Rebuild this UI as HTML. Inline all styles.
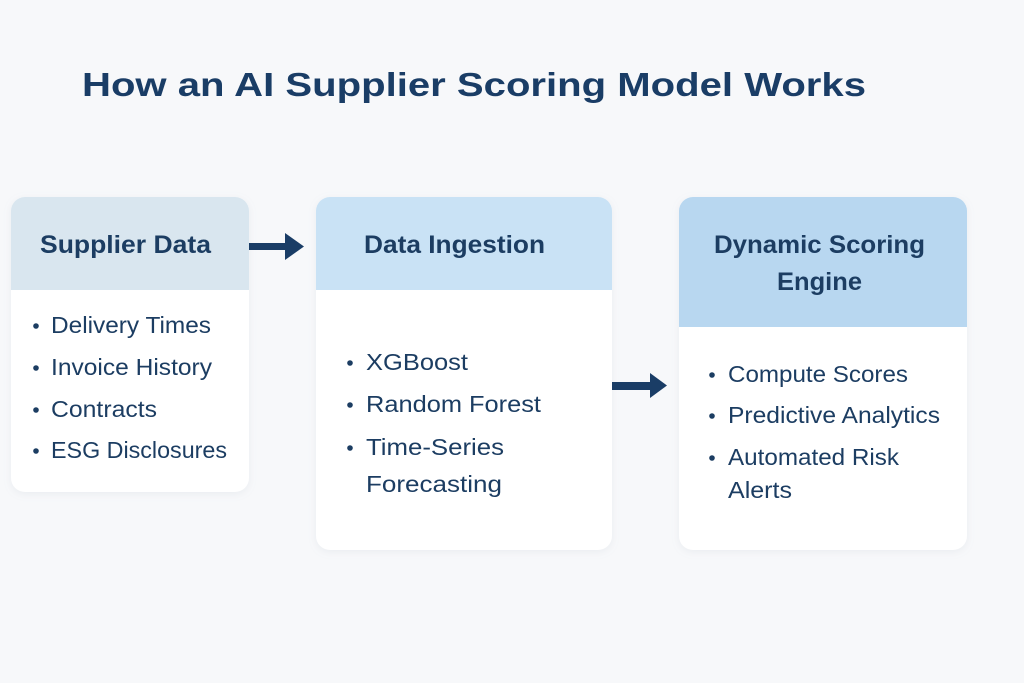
<!DOCTYPE html>
<html>
<head>
<meta charset="utf-8">
<style>
  html,body{margin:0;padding:0;background:#f7f8fa;}
  svg{display:block;}
  text{font-family:"Liberation Sans", sans-serif;}
</style>
</head>
<body>
<svg width="1024" height="683" viewBox="0 0 1024 683" xmlns="http://www.w3.org/2000/svg">
  <defs>
    <filter id="sh" x="-10%" y="-10%" width="120%" height="120%">
      <feDropShadow dx="0" dy="2" stdDeviation="4" flood-color="#8a9bb0" flood-opacity="0.12"/>
    </filter>
  </defs>
  <rect width="1024" height="683" fill="#f7f8fa"/>

  <!-- Title -->
  <text x="82" y="96" font-size="33" font-weight="bold" fill="#1a3d66" textLength="784" lengthAdjust="spacingAndGlyphs">How an AI Supplier Scoring Model Works</text>

  <!-- Box 1 -->
  <g filter="url(#sh)">
    <rect x="11" y="197" width="238" height="295" rx="14" fill="#ffffff"/>
  </g>
  <path d="M11 290 V211 A14 14 0 0 1 25 197 H235 A14 14 0 0 1 249 211 V290 Z" fill="#d9e6ef"/>
  <text x="40" y="253" font-size="25" font-weight="bold" fill="#1c3d62" textLength="171" lengthAdjust="spacingAndGlyphs">Supplier Data</text>
  <g fill="#1c3d62">
    <circle cx="36" cy="326" r="2.8"/>
    <circle cx="36" cy="368" r="2.8"/>
    <circle cx="36" cy="410" r="2.8"/>
    <circle cx="36" cy="451" r="2.8"/>
  </g>
  <g font-size="23" fill="#1c3d62">
    <text x="51" y="333" textLength="160" lengthAdjust="spacingAndGlyphs">Delivery Times</text>
    <text x="51" y="375" textLength="161" lengthAdjust="spacingAndGlyphs">Invoice History</text>
    <text x="51" y="417" textLength="106" lengthAdjust="spacingAndGlyphs">Contracts</text>
    <text x="51" y="458" textLength="176" lengthAdjust="spacingAndGlyphs">ESG Disclosures</text>
  </g>

  <!-- Arrow 1 -->
  <rect x="249" y="243" width="38" height="7" fill="#1a3d66"/>
  <polygon points="285,233 304,246.5 285,260" fill="#1a3d66"/>

  <!-- Box 2 -->
  <g filter="url(#sh)">
    <rect x="316" y="197" width="296" height="353" rx="14" fill="#ffffff"/>
  </g>
  <path d="M316 290 V211 A14 14 0 0 1 330 197 H598 A14 14 0 0 1 612 211 V290 Z" fill="#c9e2f5"/>
  <text x="364" y="253" font-size="25" font-weight="bold" fill="#1c3d62" textLength="181" lengthAdjust="spacingAndGlyphs">Data Ingestion</text>
  <g fill="#1c3d62">
    <circle cx="350" cy="363" r="2.8"/>
    <circle cx="350" cy="405" r="2.8"/>
    <circle cx="350" cy="448" r="2.8"/>
  </g>
  <g font-size="23" fill="#1c3d62">
    <text x="366" y="370" textLength="102" lengthAdjust="spacingAndGlyphs">XGBoost</text>
    <text x="366" y="412" textLength="175" lengthAdjust="spacingAndGlyphs">Random Forest</text>
    <text x="366" y="455" textLength="138" lengthAdjust="spacingAndGlyphs">Time-Series</text>
    <text x="366" y="492" textLength="136" lengthAdjust="spacingAndGlyphs">Forecasting</text>
  </g>

  <!-- Arrow 2 -->
  <rect x="612" y="382" width="40" height="8" fill="#1a3d66"/>
  <polygon points="650,373 667,385.5 650,398" fill="#1a3d66"/>

  <!-- Box 3 -->
  <g filter="url(#sh)">
    <rect x="679" y="197" width="288" height="353" rx="14" fill="#ffffff"/>
  </g>
  <path d="M679 327 V211 A14 14 0 0 1 693 197 H953 A14 14 0 0 1 967 211 V327 Z" fill="#b8d7f0"/>
  <text x="714" y="253" font-size="25" font-weight="bold" fill="#1c3d62" textLength="211" lengthAdjust="spacingAndGlyphs">Dynamic Scoring</text>
  <text x="777" y="290" font-size="25" font-weight="bold" fill="#1c3d62" textLength="85" lengthAdjust="spacingAndGlyphs">Engine</text>
  <g fill="#1c3d62">
    <circle cx="712" cy="375" r="2.8"/>
    <circle cx="712" cy="416" r="2.8"/>
    <circle cx="712" cy="458" r="2.8"/>
  </g>
  <g font-size="23" fill="#1c3d62">
    <text x="728" y="382" textLength="180" lengthAdjust="spacingAndGlyphs">Compute Scores</text>
    <text x="728" y="423" textLength="212" lengthAdjust="spacingAndGlyphs">Predictive Analytics</text>
    <text x="728" y="465" textLength="171" lengthAdjust="spacingAndGlyphs">Automated Risk</text>
    <text x="728" y="498" textLength="64" lengthAdjust="spacingAndGlyphs">Alerts</text>
  </g>
</svg>
</body>
</html>
